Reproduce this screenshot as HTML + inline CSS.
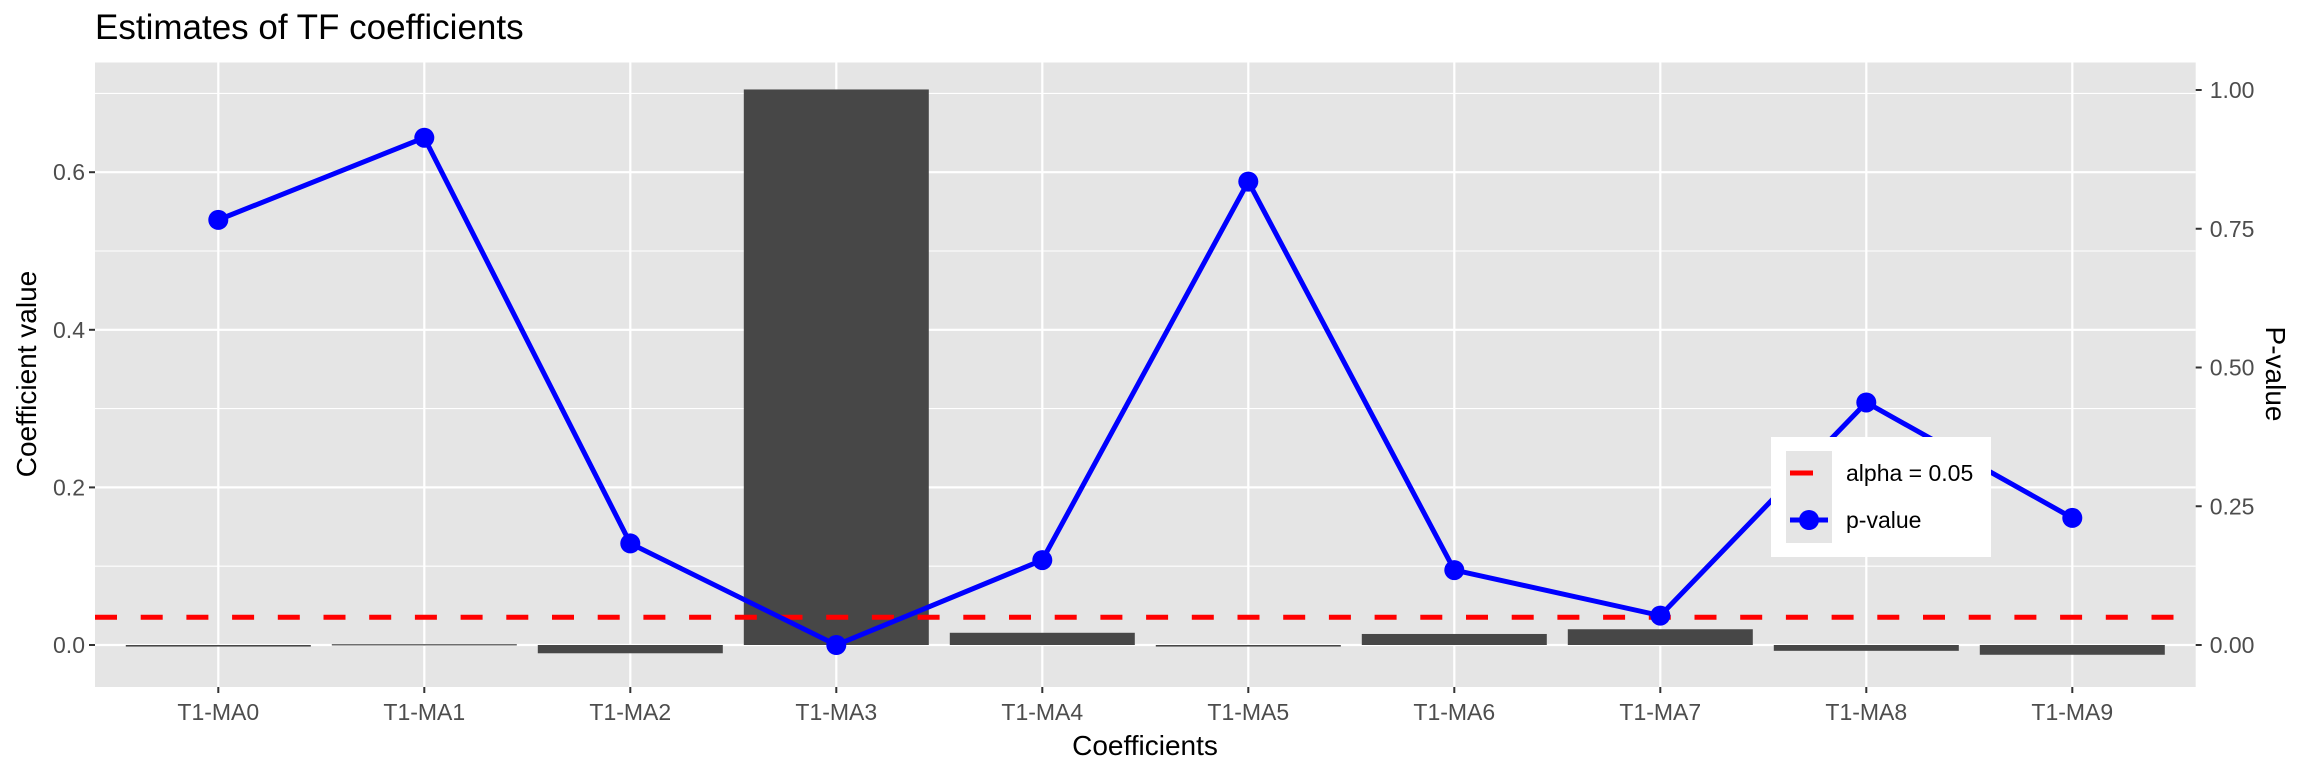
<!DOCTYPE html>
<html><head><meta charset="utf-8"><style>
html,body{margin:0;padding:0;background:#fff}
svg{display:block;font-family:"Liberation Sans",Arial,sans-serif}
</style></head><body>
<svg id="chart" width="2304" height="768" viewBox="0 0 2304 768" xmlns="http://www.w3.org/2000/svg">
<text x="95" y="39" font-size="35" fill="#000">Estimates of TF coefficients</text>
<rect x="95" y="62.5" width="2100.7" height="624.5" fill="#e5e5e5"/>
<g id="grid"></g>
<g id="bars"></g>
<g id="alpha"></g>
<g id="pline"></g>
<g id="axes"></g>
<text transform="translate(36,374) rotate(-90)" text-anchor="middle" font-size="28" fill="#000">Coefficient value</text>
<text transform="translate(2266,374) rotate(90)" text-anchor="middle" font-size="28" fill="#000">P-value</text>
<text x="1145" y="755" text-anchor="middle" font-size="28" fill="#000">Coefficients</text>
<g>
<rect x="1771" y="437" width="220" height="120" fill="#fff"/>
<rect x="1786" y="451" width="46" height="92" fill="#e5e5e5"/>
<line x1="1790" y1="473" x2="1813" y2="473" stroke="#ff0000" stroke-width="5"/>
<line x1="1790" y1="520" x2="1828" y2="520" stroke="#0000ff" stroke-width="5"/>
<circle cx="1809" cy="520" r="10" fill="#0000ff"/>
<text x="1846" y="481" font-size="23" fill="#000">alpha = 0.05</text>
<text x="1846" y="528" font-size="23" fill="#000">p-value</text>
</g>
</svg>
<script>
const categories = ["T1-MA0","T1-MA1","T1-MA2","T1-MA3","T1-MA4","T1-MA5","T1-MA6","T1-MA7","T1-MA8","T1-MA9"];
const coefValues = [-0.002, 0.001, -0.0105, 0.705, 0.0155, -0.002, 0.014, 0.02, -0.0074, -0.0124];
const pValues = [0.766, 0.914, 0.183, 0.0, 0.153, 0.835, 0.135, 0.053, 0.437, 0.229];
const alphaLevel = 0.05;
const leftTicks = [0.0, 0.2, 0.4, 0.6];
const leftTickLabels = ["0.0","0.2","0.4","0.6"];
const rightTicks = [0.0, 0.25, 0.5, 0.75, 1.0];
const rightTickLabels = ["0.00","0.25","0.50","0.75","1.00"];

const NS = "http://www.w3.org/2000/svg";
const panel = {l:95, r:2195.7, t:62.5, b:687};
const x = i => 218.3 + i * 206;
const yL = v => 645 - v * 788;
const yR = v => 645 - v * 555;
function mk(tag, attrs, parent){ const e=document.createElementNS(NS,tag); for(const k in attrs) e.setAttribute(k,attrs[k]); parent.appendChild(e); return e; }

const grid = document.getElementById('grid');
for (let k=0; k<=7; k++) {
  const v = k/10;
  const isMajor = k%2===0;
  const l = mk('line',{x1:panel.l,x2:panel.r,y1:yL(v),y2:yL(v),stroke:'#fff','stroke-width':isMajor?2.2:1.1},grid);
  
  
}
categories.forEach((c,i)=>{
  const l = mk('line',{x1:x(i),x2:x(i),y1:panel.t,y2:panel.b,stroke:'#fff','stroke-width':2.2},grid);
  
  
});

const bars = document.getElementById('bars');
const bw = 185;
coefValues.forEach((v,i)=>{
  const y0 = yL(0), y1 = yL(v);
  const r = mk('rect',{x:x(i)-bw/2,y:Math.min(y0,y1),width:bw,height:Math.max(Math.abs(y1-y0),1.2),fill:'#474747'},bars);
  
  
});

const alpha = document.getElementById('alpha');
const al = mk('line',{x1:panel.l,x2:panel.r,y1:yR(alphaLevel),y2:yR(alphaLevel),stroke:'#ff0000','stroke-width':5,'stroke-dasharray':'22 23.7'},alpha);



const pl = document.getElementById('pline');
const path = mk('polyline',{points:pValues.map((p,i)=>x(i)+','+yR(p)).join(' '),fill:'none',stroke:'#0000ff','stroke-width':5,'stroke-linejoin':'round'},pl);


pValues.forEach((p,i)=>{
  const c = mk('circle',{cx:x(i),cy:yR(p),r:10,fill:'#0000ff'},pl);
  
  
});

const axes = document.getElementById('axes');
leftTicks.forEach((v,i)=>{
  const t = mk('line',{x1:panel.l-6,x2:panel.l,y1:yL(v),y2:yL(v),stroke:'#333','stroke-width':2},axes);
  
  
  const tx = mk('text',{x:panel.l-10,y:yL(v)+8,'text-anchor':'end','font-size':23,fill:'#4d4d4d'},axes);
  tx.textContent = leftTickLabels[i];
  
  
});
rightTicks.forEach((v,i)=>{
  const t = mk('line',{x1:panel.r,x2:panel.r+6,y1:yR(v),y2:yR(v),stroke:'#333','stroke-width':2},axes);
  
  
  const tx = mk('text',{x:panel.r+14,y:yR(v)+8,'font-size':23,fill:'#4d4d4d'},axes);
  tx.textContent = rightTickLabels[i];
  
  
});
categories.forEach((c,i)=>{
  const t = mk('line',{x1:x(i),x2:x(i),y1:panel.b,y2:panel.b+6,stroke:'#333','stroke-width':2},axes);
  
  
  const tx = mk('text',{x:x(i),y:720,'text-anchor':'middle','font-size':23,fill:'#4d4d4d'},axes);
  tx.textContent = c;
  
  
});
</script>
</body></html>
